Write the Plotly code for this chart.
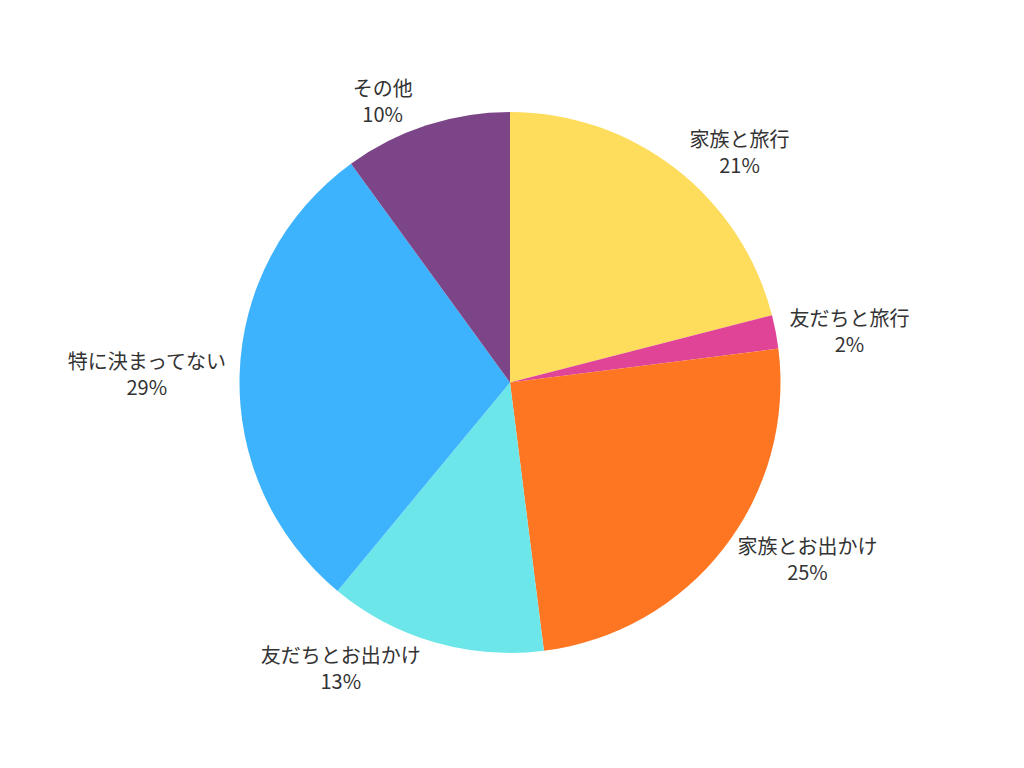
import plotly.graph_objects as go

labels = ["家族と旅行", "友だちと旅行", "家族とお出かけ", "友だちとお出かけ", "特に決まってない", "その他"]
values = [21, 2, 25, 13, 29, 10]
colors = ["#FEDC5C", "#DF4496", "#FE7622", "#6CE6E9", "#3DB3FE", "#7C4588"]

fig = go.Figure(go.Pie(
    labels=labels,
    values=values,
    sort=False,
    direction="clockwise",
    rotation=0,
    marker=dict(colors=colors, line=dict(width=0)),
    texttemplate="%{label}<br>%{percent:.0%}",
    textposition="outside",
    textfont=dict(size=20, color="#333333", family="Noto Sans CJK JP"),
    showlegend=False,
    hoverinfo="label+percent",
))

fig.update_layout(
    width=1024, height=768,
    margin=dict(l=231, r=251, t=104, b=123),
    paper_bgcolor="white",
    font=dict(family="Noto Sans CJK JP"),
)

fig.write_html("out.html")
